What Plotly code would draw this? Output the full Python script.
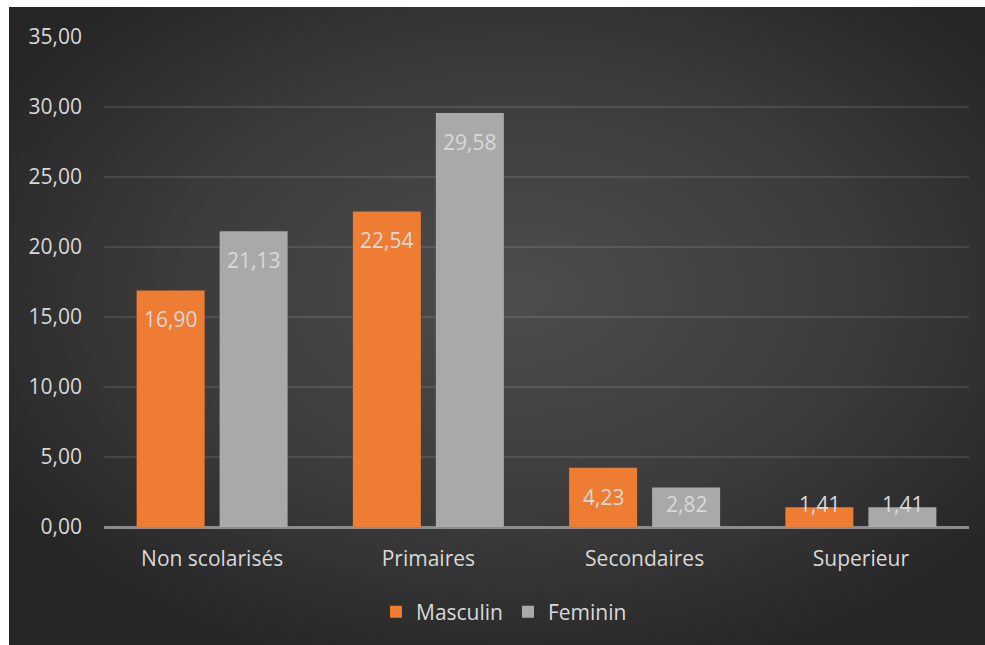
import plotly.graph_objects as go
import urllib.parse

categories = ["Non scolarisés", "Primaires", "Secondaires", "Superieur"]
masculin = [16.90, 22.54, 4.23, 1.41]
feminin = [21.13, 29.58, 2.82, 1.41]
y_ticks = [0, 5, 10, 15, 20, 25, 30, 35]

W, H = 985, 645
L, R, T, B = 104, 16, 37, 118
pw, ph = W - L - R, H - T - B
BARGAP, GROUPGAP = 0.2324, 0.1807

svg = (
    '<svg xmlns="http://www.w3.org/2000/svg" width="976" height="638" preserveAspectRatio="none" viewBox="0 0 976 638">'
    '<defs><radialGradient id="g" cx="52%" cy="45%" r="62%">'
    '<stop offset="0%" stop-color="#4d4d4d"/>'
    '<stop offset="55%" stop-color="#3c3c3c"/>'
    '<stop offset="100%" stop-color="#262626"/>'
    '</radialGradient></defs>'
    '<rect width="976" height="638" fill="url(#g)"/></svg>'
)
bg_uri = "data:image/svg+xml;charset=utf-8," + urllib.parse.quote(svg)

font = "Open Sans, Noto Sans, sans-serif"
txtcol = "#d9d9d9"
FS = 21

fig = go.Figure()
fig.add_trace(go.Bar(
    name="Masculin", x=categories, y=masculin,
    marker=dict(color="#ef7c33", line=dict(width=0)),
    hoverinfo="x+y",
))
fig.add_trace(go.Bar(
    name="Feminin", x=categories, y=feminin,
    marker=dict(color="#a9a9a9", line=dict(width=0)),
    hoverinfo="x+y",
))

# data labels (Excel "inside end" style), placed from the data values
slot_px = pw / len(categories) * (1 - BARGAP) / 2
annotations = []
for series, sign in ((masculin, -1), (feminin, 1)):
    for cat, v in zip(categories, series):
        annotations.append(dict(
            x=cat, y=max(v - 2.0, 1.75), xref="x", yref="y",
            text=f"{v:.2f}".replace(".", ","), showarrow=False,
            xanchor="center", yanchor="middle",
            xshift=sign * slot_px / 2, yshift=-1,
            font=dict(size=FS, color=txtcol, family=font),
        ))

fig.update_layout(
    width=W, height=H,
    margin=dict(l=L, r=R, t=T, b=B, pad=0),
    paper_bgcolor="white",
    plot_bgcolor="rgba(0,0,0,0)",
    separators=", ",
    barmode="group", bargap=BARGAP, bargroupgap=GROUPGAP,
    font=dict(family=font, size=FS, color=txtcol),
    showlegend=True,
    legend=dict(orientation="h", x=(504 - L) / pw, xanchor="center",
                y=(H - B - 612) / ph, yanchor="middle",
                font=dict(size=FS, color=txtcol, family=font),
                bgcolor="rgba(0,0,0,0)", traceorder="normal"),
    annotations=annotations,
    images=[dict(
        source=bg_uri, xref="paper", yref="paper",
        x=(9 - L) / pw, y=(H - B - 7) / ph,
        sizex=(W - 9) / pw, sizey=(H - 7) / ph,
        xanchor="left", yanchor="top", sizing="stretch", layer="below",
    )],
    xaxis=dict(
        showgrid=False, showline=False, zeroline=False,
        tickfont=dict(size=FS, color=txtcol, family=font),
        ticks="", ticklabelstandoff=17,
    ),
    yaxis=dict(
        range=[0, 35], tickvals=y_ticks, tickformat=".2f",
        showgrid=True, gridcolor="rgba(255,255,255,0.10)", gridwidth=1.5,
        zeroline=True, zerolinecolor="#8c8c8c", zerolinewidth=2.5,
        showline=False, ticks="", ticklabelstandoff=21,
        tickfont=dict(size=FS, color=txtcol, family=font),
    ),
)

fig.write_html("out.html")
